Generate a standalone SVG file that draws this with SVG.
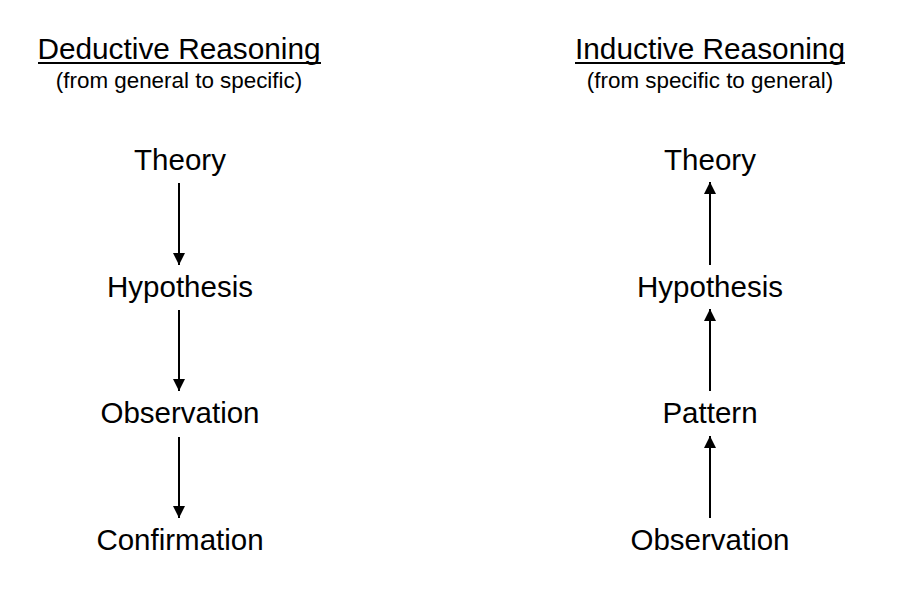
<svg xmlns="http://www.w3.org/2000/svg" width="900" height="600" viewBox="0 0 900 600">
<defs>
<style>
text{font-family:"Liberation Sans",Arial,sans-serif;fill:#000;text-anchor:middle}
.t{font-size:29.8px}
.s{font-size:22.4px}
.n{font-size:29.5px}
.c line{stroke:#000;stroke-width:2}
</style>
<marker id="ah" viewBox="0 0 10 10" refX="10" refY="5" markerWidth="6" markerHeight="6" markerUnits="strokeWidth" orient="auto">
<path d="M0,0 L10,5 L0,10 z" fill="#000"/>
</marker>
</defs>
<rect width="900" height="600" fill="#fff"/>
<g id="title-deductive">
<text class="t" x="179" y="59">Deductive Reasoning</text>
<line x1="38" y1="63" x2="321" y2="63" stroke="#000" stroke-width="2"/>
<text class="s" x="179" y="88">(from general to specific)</text>
</g>
<g id="title-inductive">
<text class="t" x="710" y="59">Inductive Reasoning</text>
<line x1="575" y1="63" x2="845" y2="63" stroke="#000" stroke-width="2"/>
<text class="s" x="710" y="88">(from specific to general)</text>
</g>
<g id="d-theory"><text class="n" x="180" y="170">Theory</text></g>
<g id="d-hypothesis"><text class="n" x="180" y="297">Hypothesis</text></g>
<g id="d-observation"><text class="n" x="180" y="423">Observation</text></g>
<g id="d-confirmation"><text class="n" x="180" y="550">Confirmation</text></g>
<g id="i-theory"><text class="n" x="710" y="170">Theory</text></g>
<g id="i-hypothesis"><text class="n" x="710" y="297">Hypothesis</text></g>
<g id="i-pattern"><text class="n" x="710" y="423">Pattern</text></g>
<g id="i-observation"><text class="n" x="710" y="550">Observation</text></g>
<g id="connectors" class="c">
<line x1="179" y1="183" x2="179" y2="265" marker-end="url(#ah)"/>
<line x1="179" y1="310" x2="179" y2="391" marker-end="url(#ah)"/>
<line x1="179" y1="437" x2="179" y2="518" marker-end="url(#ah)"/>
<line x1="710" y1="265" x2="710" y2="182" marker-end="url(#ah)"/>
<line x1="710" y1="391" x2="710" y2="309" marker-end="url(#ah)"/>
<line x1="710" y1="518" x2="710" y2="436" marker-end="url(#ah)"/>
</g>
</svg>
